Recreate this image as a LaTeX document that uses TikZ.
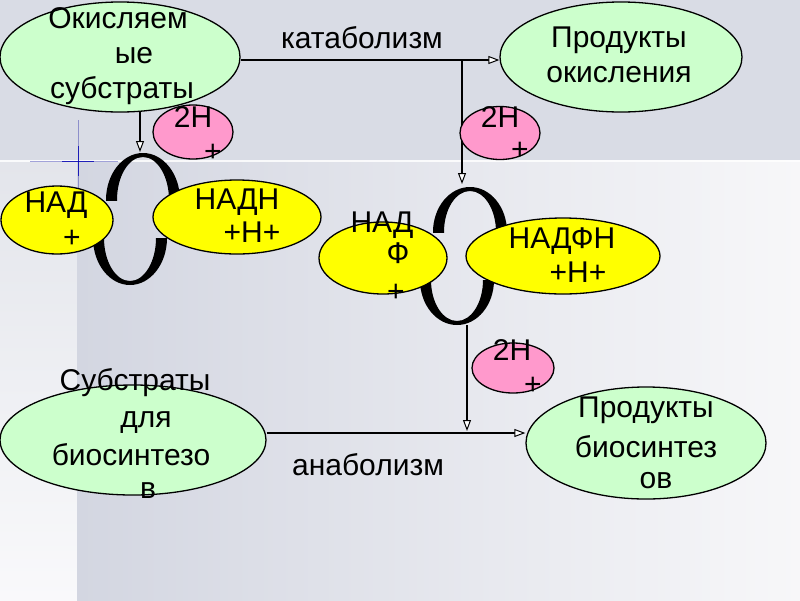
\documentclass[tikz,border=0pt]{standalone}
\usepackage{fontspec}
\setmainfont{Liberation Sans}
\usetikzlibrary{arrows.meta,shapes.geometric}
\definecolor{bgtop}{HTML}{D9DCE5}
\definecolor{bgl1}{HTML}{E3E5EB}
\definecolor{bgl2}{HTML}{F9F9FB}
\definecolor{bgm1}{HTML}{D3D6E1}
\definecolor{bgm2}{HTML}{F7F7F9}
\definecolor{lgreen}{HTML}{CCFFCC}
\definecolor{lpink}{HTML}{FF99CC}
\definecolor{lyellow}{HTML}{FFFF00}
\begin{document}
\begin{tikzpicture}[x=1pt,y=-1pt,
  ell/.style={ellipse, draw=black, line width=1.3pt, inner sep=0pt},
  gell/.style={ell, fill=lgreen},
  pell/.style={ell, fill=lpink},
  yell/.style={ell, fill=lyellow},
  txt/.style={inner sep=0pt, anchor=base, font=\fontsize{30pt}{36pt}\selectfont},
  arr/.style={line width=1.2pt, -{Triangle[length=11pt,width=8pt,fill=white,line width=1pt]}},
  loopfill/.style={fill=black, even odd rule}
]
\useasboundingbox (0,0) rectangle (800,600);
% background
\fill[bgtop] (0,0) rectangle (800,160);
\shade[top color=bgl1, bottom color=bgl2] (0,160) rectangle (77,600);
\shade[left color=bgm1, right color=bgm2] (77,160) rectangle (800,600);
\fill[white, opacity=0.85] (0,159.5) rectangle (800,162);
% sparkle
\draw[blue!60!black, opacity=0.35, line width=1pt] (30,161) -- (118,161);
\draw[blue!60!black, opacity=0.35, line width=1pt] (78,120) -- (78,200);
\draw[blue!70!black, opacity=0.8, line width=1pt] (62,161) -- (94,161);
\draw[blue!70!black, opacity=0.8, line width=1pt] (78,146) -- (78,176);

% connector coordinates
\coordinate (cat) at (462,60);
\coordinate (loopRtop) at (462,184);
\coordinate (loopRbot) at (467,325);
\coordinate (ana) at (467,433);
\coordinate (anatip) at (467,431);
\coordinate (la) at (140,111);
\coordinate (lb) at (140,152);

% green ellipses (nodes)
\node[gell, minimum width=240pt, minimum height=110pt] (s1) at (120,57) {};
\node[gell, minimum width=242pt, minimum height=110pt] (p1) at (621,57) {};
\node[gell, minimum width=266pt, minimum height=110pt] (b1) at (133,440) {};
\node[gell, minimum width=240pt, minimum height=112pt] (b2) at (646,443) {};

% connectors
\draw[arr] (s1.east |- cat) -- (p1.west |- cat);
\draw[arr] (cat) -- (loopRtop);
\draw[arr] (la) -- (lb);
\draw[arr] (b1.east |- ana) -- (b2.west |- ana);
\draw[arr] (loopRbot) -- (anatip);

% cyclic arrows (crescents)
\begin{scope}
  \clip (95,145) rectangle (190,200);
  \fill[loopfill] (143,200) ellipse [x radius=37pt, y radius=47pt]
                  (143,200) ellipse [x radius=26pt, y radius=43pt];
\end{scope}
\begin{scope}
  \clip (85,238) rectangle (180,292);
  \fill[loopfill] (130,238) ellipse [x radius=37pt, y radius=47pt]
                  (130,238) ellipse [x radius=26pt, y radius=43pt];
\end{scope}
\begin{scope}
  \clip (425,180) rectangle (515,232);
  \fill[loopfill] (470,232) ellipse [x radius=37pt, y radius=45pt]
                  (470,232) ellipse [x radius=26pt, y radius=41pt];
\end{scope}
\begin{scope}
  \clip (410,280) rectangle (505,332);
  \fill[loopfill] (457,280) ellipse [x radius=37pt, y radius=45pt]
                  (457,280) ellipse [x radius=26pt, y radius=41pt];
\end{scope}

% yellow ellipses
\node[yell, minimum width=112pt, minimum height=68pt] (y1) at (57,220) {};
\node[yell, minimum width=168pt, minimum height=74pt] (y2) at (237,217) {};
\node[yell, minimum width=128pt, minimum height=72pt] (y3) at (383,258) {};
\node[yell, minimum width=194pt, minimum height=76pt] (y4) at (563,256) {};

% pink ellipses
\node[pell, minimum width=80pt, minimum height=54pt] (k1) at (193,132) {};
\node[pell, minimum width=80pt, minimum height=53pt] (k2) at (500,133) {};
\node[pell, minimum width=82pt, minimum height=50pt] (k3) at (513,368) {};

% texts
\node[txt] (s1a) at (118,28) {Окисляем};
\node[txt] (s1b) at (134,63) {ые};
\node[txt] (s1c) at (122,98) {субстраты};
\node[txt] (p1a) at (619,47) {Продукты};
\node[txt] (p1b) at (619,82) {окисления};
\node[txt] (catl) at (362,48) {катаболизм};
\node[txt] (k1a) at (193,127) {2Н};
\node[txt] (k1b) at (213,161) {+};
\node[txt] (k2a) at (500,127) {2Н};
\node[txt] (k2b) at (520,159) {+};
\node[txt] (k3a) at (512,360) {2Н};
\node[txt] (k3b) at (533,394) {+};
\node[txt] (y1a) at (56,212) {НАД};
\node[txt] (y1b) at (72,247) {+};
\node[txt] (y2a) at (237,209) {НАДН};
\node[txt] (y2b) at (252,242) {+Н+};
\node[txt] (y3a) at (382,232) {НАД};
\node[txt] (y3b) at (398,263) {Ф};
\node[txt] (y3c) at (396,301) {+};
\node[txt] (y4a) at (562,248) {НАДФН};
\node[txt] (y4b) at (578,282) {+Н+};
\node[txt] (b1a) at (135,390) {Субстраты};
\node[txt] (b1b) at (146,427) {для};
\node[txt] (b1c) at (131,465) {биосинтезо};
\node[txt] (b1d) at (148,498) {в};
\node[txt] (anal) at (368,475) {анаболизм};
\node[txt] (b2a) at (646,417) {Продукты};
\node[txt] (b2b) at (646,457) {биосинтез};
\node[txt] (b2c) at (656,488) {ов};
\end{tikzpicture}
\end{document}
